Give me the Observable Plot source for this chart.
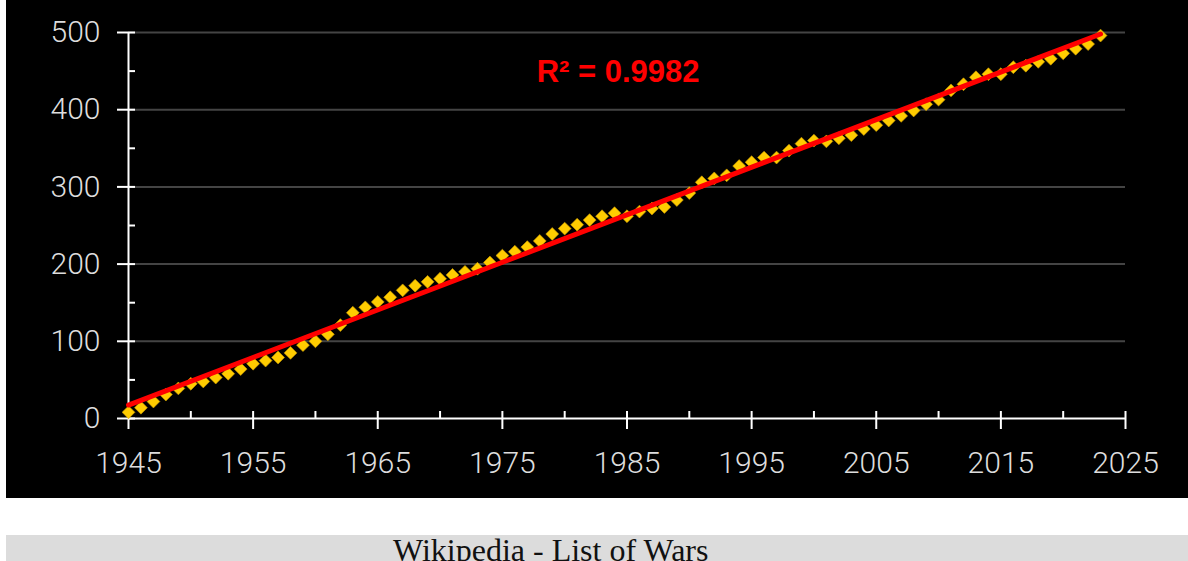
<!DOCTYPE html>
<html><head><meta charset="utf-8">
<script src="https://cdn.jsdelivr.net/npm/d3@7"></script>
<script src="https://cdn.jsdelivr.net/npm/@observablehq/plot@0.6"></script>
<style>
html,body{margin:0;padding:0;background:#fff;overflow:hidden;width:1188px;height:561px;position:relative}
#chart{position:absolute;left:6px;top:0;width:1182px;height:498px;background:#000}
#caption{position:absolute;left:6px;top:535px;width:1182px;height:60px;background:#dcdcdc}
#caption span{position:absolute;left:387px;top:-1px;font-family:"Liberation Serif","Times New Roman",serif;font-size:32px;line-height:1;color:#111;white-space:nowrap}
</style></head><body>
<div id="chart"></div>
<div id="caption"><span>Wikipedia - List of Wars</span></div>
<script>
// Years and cumulative number of wars
const years = [1945,1946,1947,1948,1949,1950,1951,1952,1953,1954,1955,1956,1957,1958,1959,
  1960,1961,1962,1963,1964,1965,1966,1967,1968,1969,1970,1971,1972,1973,1974,
  1975,1976,1977,1978,1979,1980,1981,1982,1983,1984,1985,1986,1987,1988,1989,
  1990,1991,1992,1993,1994,1995,1996,1997,1998,1999,2000,2001,2002,2003,2004,
  2005,2006,2007,2008,2009,2010,2011,2012,2013,2014,2015,2016,2017,2018,2019,
  2020,2021,2022,2023];
const cumulativeWars = [8,14,22,31,39,45,48,53,58,64,71,75,79,85,95,
  100,109,121,137,144,151,157,166,172,177,181,186,190,194,202,
  211,216,222,230,239,246,251,257,262,266,262,268,272,274,283,
  292,306,311,315,327,332,338,338,347,356,360,359,363,367,375,
  380,386,392,399,407,413,425,433,442,446,446,455,457,462,466,
  473,479,485,496];

const xDomain = [1945, 2025];
const yDomain = [0, 500];
const xMajorTicks = [1945,1955,1965,1975,1985,1995,2005,2015,2025];
const xMinorTicks = [1950,1960,1970,1980,1990,2000,2010,2020];
const yMajorTicks = [0,100,200,300,400,500];
const yMinorTicks = [50,150,250,350,450];
const gridTicks = [100,200,300,400,500];
const annotation = [{year: 1977.75, wars: 449, label: "R² = 0.9982"}];

const data = years.map((year, i) => ({year, wars: cumulativeWars[i]}));
const blank = () => "";
const diamond = d3.symbolDiamond2 || "diamond";

const chart = Plot.plot({
  width: 1182, height: 498,
  marginLeft: 122, marginRight: 63, marginTop: 32, marginBottom: 80,
  style: {background: "#000", color: "#dddddd", fontFamily: "Roboto, 'Liberation Sans', Arial, sans-serif", fontSize: "30px", fontWeight: 300, overflow: "visible"},
  x: {domain: xDomain},
  y: {domain: yDomain},
  marks: [
    Plot.gridY({ticks: gridTicks, stroke: "#444444", strokeOpacity: 1, strokeWidth: 2}),
    Plot.ruleX([xDomain[0]], {y1: yDomain[0], y2: yDomain[1], stroke: "#ffffff", strokeWidth: 2}),
    Plot.ruleY([yDomain[0]], {x1: xDomain[0], x2: xDomain[1], stroke: "#ffffff", strokeWidth: 2}),
    Plot.axisY({ticks: yMajorTicks, tickSize: 18, dx: 7, tickFormat: blank, label: null, stroke: "#ffffff", strokeWidth: 2}),
    Plot.axisY({ticks: yMinorTicks, tickSize: 7, dx: 7, tickFormat: blank, label: null, stroke: "#ffffff", strokeWidth: 2}),
    Plot.axisY({ticks: yMajorTicks, tickSize: 0, tickPadding: 28, label: null, fontSize: 30, fill: "#dddddd"}),
    Plot.axisX({ticks: xMajorTicks, tickSize: 18, dy: -7, tickFormat: blank, label: null, stroke: "#ffffff", strokeWidth: 2}),
    Plot.axisX({ticks: xMinorTicks, tickSize: 7, dy: -7, tickFormat: blank, label: null, stroke: "#ffffff", strokeWidth: 2}),
    Plot.axisX({ticks: xMajorTicks, tickSize: 0, tickPadding: 33, tickFormat: d => String(d), label: null, fontSize: 30, fill: "#dddddd"}),
    Plot.dot(data, {x: "year", y: "wars", symbol: diamond, r: 5.8, fill: "#ffcc00", stroke: "#c89800", strokeWidth: 0.6}),
    Plot.linearRegressionY(data, {x: "year", y: "wars", stroke: "#ff0000", strokeWidth: 5, ci: 0}),
    Plot.text(annotation, {x: "year", y: "wars", text: "label", fill: "#ff0000", fontSize: 31, fontWeight: "bold", textAnchor: "start", fontFamily: "'Liberation Sans', Arial, sans-serif"})
  ]
});
document.getElementById("chart").appendChild(chart);
</script>
</body></html>
